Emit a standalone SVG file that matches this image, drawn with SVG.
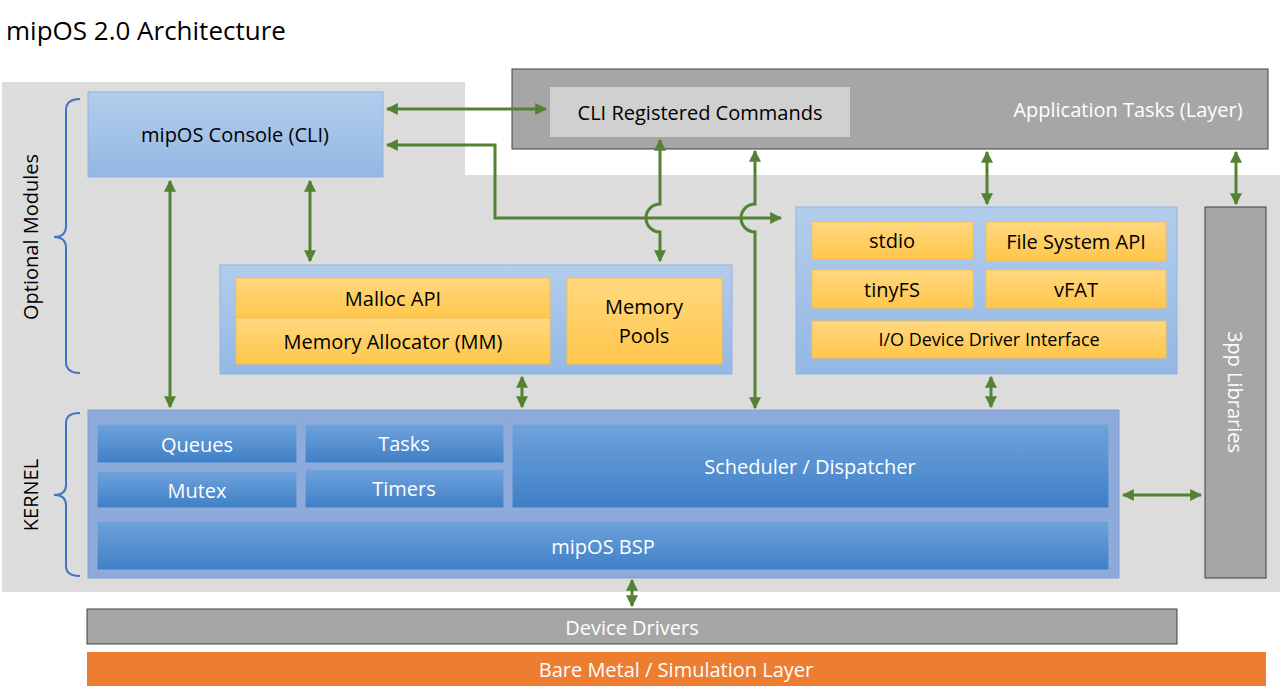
<svg xmlns="http://www.w3.org/2000/svg" width="1280" height="700" viewBox="0 0 1280 700">
<defs>
<linearGradient id="gb" x1="0" y1="0" x2="0" y2="1"><stop offset="0" stop-color="#6fa3dc"/><stop offset="1" stop-color="#3f7fc6"/></linearGradient>
<linearGradient id="gl" x1="0" y1="0" x2="0" y2="1"><stop offset="0" stop-color="#b3cdec"/><stop offset="1" stop-color="#93b8e3"/></linearGradient>
<linearGradient id="gy" x1="0" y1="0" x2="0" y2="1"><stop offset="0" stop-color="#ffd880"/><stop offset="1" stop-color="#ffc64a"/></linearGradient>
<marker id="ah" viewBox="0 0 10 10" refX="9" refY="5" markerWidth="4" markerHeight="4" orient="auto-start-reverse"><path d="M0,0L10,5L0,10z" fill="#548235"/></marker>
<style>
text{font-family:"Open Sans","Noto Sans",sans-serif;text-anchor:middle;dominant-baseline:central}
.t{font-size:20px;fill:#000}
.w{font-size:20px;fill:#fff}
.a{stroke:#548235;stroke-width:3;fill:none;marker-start:url(#ah);marker-end:url(#ah)}
.y{fill:url(#gy);stroke:#f0c060}
.k{fill:url(#gb);stroke:#8fb0dc}
.br{fill:none;stroke:#4472c4;stroke-width:2}
</style>
</defs>
<rect width="1280" height="700" fill="#fff"/>
<text x="6" y="30" style="font-size:26px;text-anchor:start" fill="#000">mipOS 2.0 Architecture</text>
<path d="M2,82H465V175H1280V592H2Z" fill="#dcdcdc"/>
<g id="app"><rect x="512" y="69" width="756" height="80" fill="#a6a6a6" stroke="#404040"/><text class="w" x="1128" y="109">Application Tasks (Layer)</text></g>
<g id="cli"><rect x="550" y="87" width="300" height="50" fill="#d0d0d0"/><text class="t" x="700" y="112">CLI Registered Commands</text></g>
<g id="console"><rect x="88" y="92" width="295" height="85" fill="url(#gl)" stroke="#8fb4e0"/><text class="t" x="235" y="134">mipOS Console (CLI)</text></g>
<g id="mem"><rect x="220" y="265" width="512" height="109" fill="url(#gl)" stroke="#8fb4e0"/>
<rect class="y" x="236" y="278" width="314" height="40"/><text class="t" x="393" y="298">Malloc API</text>
<rect class="y" x="236" y="318" width="314" height="46"/><text class="t" x="393" y="341">Memory Allocator (MM)</text>
<rect class="y" x="567" y="278" width="155" height="86"/><text class="t" x="644" y="306">Memory</text><text class="t" x="644" y="335">Pools</text></g>
<g id="io"><rect x="796" y="207" width="381" height="167" fill="url(#gl)" stroke="#8fb4e0"/>
<rect class="y" x="812" y="222" width="161" height="37"/><text class="t" x="892" y="240">stdio</text>
<rect class="y" x="986" y="222" width="180" height="39"/><text class="t" x="1076" y="241">File System API</text>
<rect class="y" x="812" y="270" width="161" height="38"/><text class="t" x="892" y="289">tinyFS</text>
<rect class="y" x="986" y="270" width="180" height="38"/><text class="t" x="1076" y="289">vFAT</text>
<rect class="y" x="812" y="321" width="354" height="37"/><text class="t" x="989" y="339" style="font-size:18px">I/O Device Driver Interface</text></g>
<g id="kernel"><rect x="88" y="410" width="1031" height="168" fill="#8eaadb" stroke="#7f9fd6"/>
<rect class="k" x="97" y="424" width="200" height="39"/><text class="w" x="197" y="444">Queues</text>
<rect class="k" x="305" y="424" width="199" height="39"/><text class="w" x="404" y="443">Tasks</text>
<rect class="k" x="97" y="471" width="200" height="37"/><text class="w" x="197" y="490">Mutex</text>
<rect class="k" x="305" y="469" width="199" height="39"/><text class="w" x="404" y="488">Timers</text>
<rect class="k" x="512" y="424" width="597" height="84"/><text class="w" x="810" y="466">Scheduler / Dispatcher</text>
<rect class="k" x="97" y="521" width="1012" height="49"/><text class="w" x="603" y="546">mipOS BSP</text></g>
<g id="libs"><rect x="1205" y="207" width="61" height="371" fill="#a6a6a6" stroke="#404040"/><text class="w" x="1235" y="392" transform="rotate(90 1235 392)">3pp Libraries</text></g>
<g id="drivers"><rect x="87" y="609" width="1090" height="35" fill="#a6a6a6" stroke="#404040"/><text class="w" x="632" y="627">Device Drivers</text></g>
<g id="bare"><rect x="87" y="652" width="1179" height="34" fill="#ed7d31"/><text class="w" x="676" y="669">Bare Metal / Simulation Layer</text></g>
<g id="labels">
<path class="br" d="M80,99Q66,99 66,110V226Q66,237 54,237Q66,237 66,248V362Q66,373 80,373"/>
<text class="t" x="30" y="237" transform="rotate(-90 30 237)">Optional Modules</text>
<path class="br" d="M80,413Q66,413 66,423V485Q66,495 54,495Q66,495 66,505V566Q66,576 80,576"/>
<text class="t" x="30" y="495" transform="rotate(-90 30 495)">KERNEL</text>
</g>
<g id="connectors">
<path class="a" d="M387,109H546"/>
<path class="a" d="M387,145H495V218H781"/>
<path class="a" d="M660,140V204A14,14 0 0 0 660,232V261"/>
<path class="a" d="M755,151V204A14,14 0 0 0 755,232V408"/>
<path class="a" d="M170,181V407"/>
<path class="a" d="M310,181V261"/>
<path class="a" d="M522,377V407"/>
<path class="a" d="M991,377V407"/>
<path class="a" d="M987,152V204"/>
<path class="a" d="M1236,152V204"/>
<path class="a" d="M1123,495H1201"/>
<path class="a" d="M632,580V606"/>
</g>
</svg>
